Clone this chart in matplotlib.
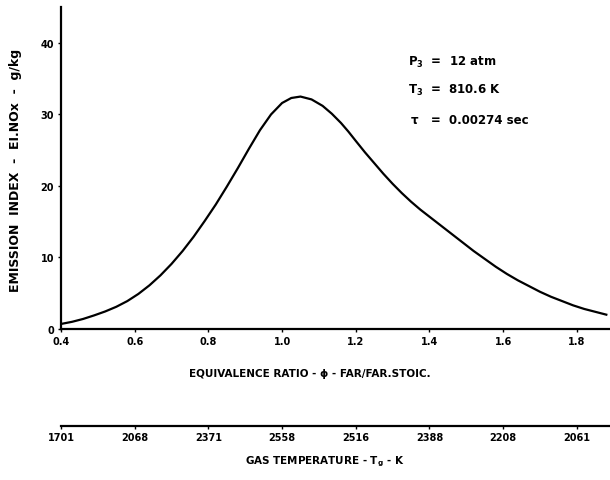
import matplotlib
matplotlib.use('Agg')
import matplotlib.pyplot as plt

plt.rcParams['font.family'] = ['DejaVu Sans']
plt.rcParams['font.weight'] = 'bold'
plt.rcParams['mathtext.fontset'] = 'dejavusans'
plt.rcParams['mathtext.default'] = 'bf'

# values
phi = [0.40, 0.43, 0.46, 0.49, 0.52, 0.55, 0.58, 0.61, 0.64, 0.67, 0.70, 0.73, 0.76,
       0.79, 0.82, 0.85, 0.88, 0.91, 0.94, 0.97, 1.00, 1.025, 1.05, 1.08, 1.11, 1.135,
       1.16, 1.18, 1.20, 1.225, 1.25, 1.275, 1.30, 1.325, 1.35, 1.375, 1.40, 1.43, 1.46,
       1.49, 1.52, 1.55, 1.58, 1.61, 1.64, 1.67, 1.70, 1.73, 1.76, 1.79, 1.82, 1.85, 1.88]
ei_nox = [0.7, 1.0, 1.4, 1.9, 2.45, 3.1, 3.9, 4.9, 6.1, 7.5, 9.1, 10.9, 12.9,
          15.1, 17.4, 19.9, 22.5, 25.2, 27.8, 30.0, 31.6, 32.3, 32.5, 32.1, 31.2, 30.1,
          28.8, 27.6, 26.3, 24.7, 23.2, 21.7, 20.3, 19.0, 17.8, 16.7, 15.7, 14.5, 13.3,
          12.1, 10.9, 9.8, 8.7, 7.7, 6.8, 6.0, 5.2, 4.5, 3.9, 3.3, 2.8, 2.4, 2.0]

phi_ticks = [0.4, 0.6, 0.8, 1.0, 1.2, 1.4, 1.6, 1.8]
gas_temp = ['1701', '2068', '2371', '2558', '2516', '2388', '2208', '2061']
ei_ticks = [0, 10, 20, 30, 40]

fig = plt.figure(figsize=(6.1, 4.81), dpi=100)
ax = fig.add_axes([0.1, 0.314, 0.9, 0.669])

ax.plot(phi, ei_nox, color='black', lw=1.6)
ax.set_xlim(0.4, 1.89)
ax.set_ylim(0, 45)
ax.set_xticks(phi_ticks)
ax.set_xticklabels(['%.1f' % p for p in phi_ticks])
ax.set_yticks(ei_ticks)
for s in ['top', 'right']:
    ax.spines[s].set_visible(False)
for s in ['left', 'bottom']:
    ax.spines[s].set_linewidth(1.6)
ax.tick_params(axis='both', labelsize=7, length=2, width=1, pad=3)

ax.set_ylabel('EMISSION  INDEX  -  EI.NOx  -  g/kg', fontsize=9, fontweight='bold')
ax.yaxis.set_label_coords(-0.071, 0.497)
ax.set_xlabel('EQUIVALENCE RATIO - ϕ - FAR/FAR.STOIC.', fontsize=7.5, fontweight='bold')
ax.xaxis.set_label_coords(0.453, -0.12)

# gas temperature scale under the main axis
sec = ax.secondary_xaxis(-0.30)
sec.set_xticks(phi_ticks)
sec.set_xticklabels(gas_temp)
sec.spines['bottom'].set_linewidth(1.6)
sec.tick_params(labelsize=7, length=2, width=1, pad=3)
fig.text(0.533, 0.04, 'GAS TEMPERATURE - T$_g$ - K', fontsize=7.5,
         fontweight='bold', ha='center', va='center')

# operating conditions
ax.text(0.632, 0.832, '$P_3$  =  12 atm', transform=ax.transAxes, fontsize=8.5, va='center')
ax.text(0.632, 0.745, '$T_3$  =  810.6 K', transform=ax.transAxes, fontsize=8.5, va='center')
ax.text(0.637, 0.652, 'τ   =  0.00274 sec', transform=ax.transAxes, fontsize=8.5, va='center')

fig.savefig('out.png', dpi=100)
